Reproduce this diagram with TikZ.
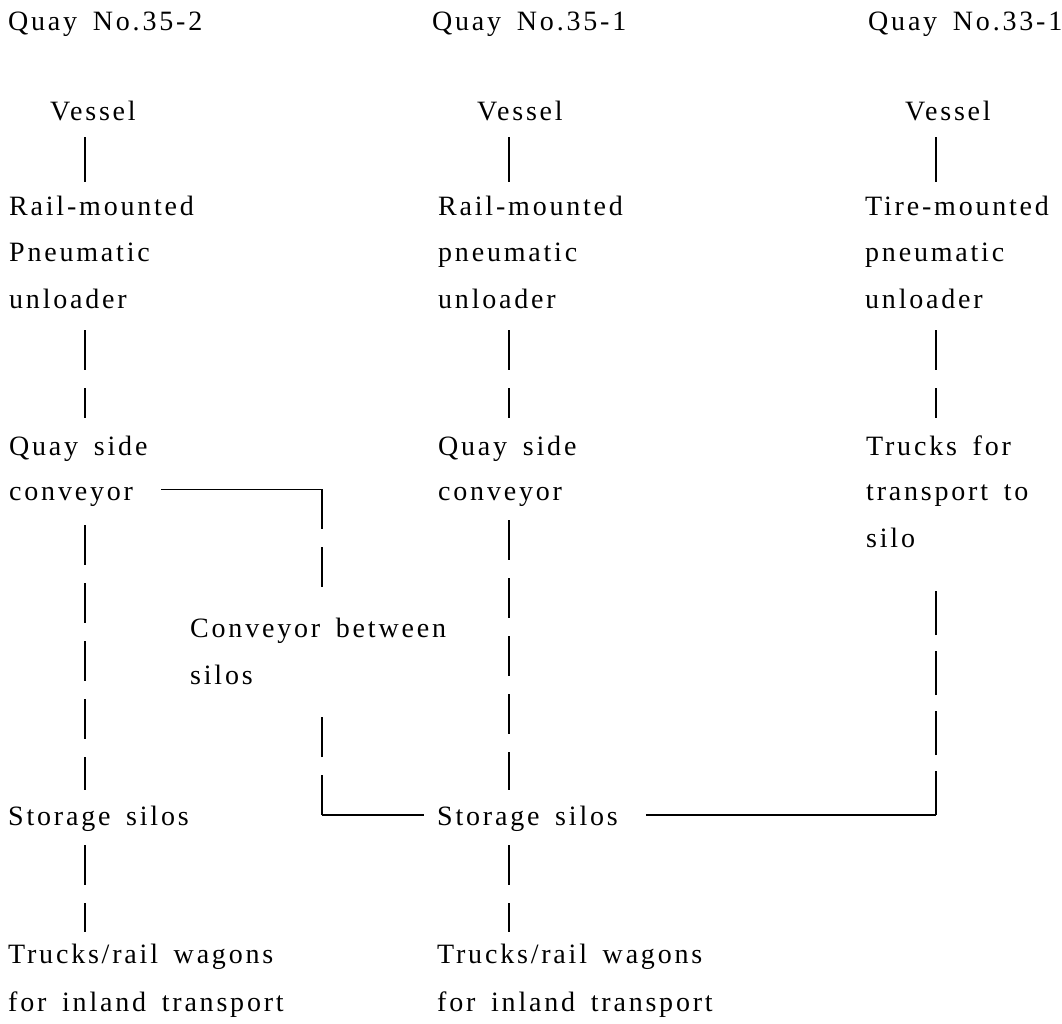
\documentclass[tikz,border=0pt]{standalone}
\usepackage{fontspec}
\setmainfont{Liberation Serif}[LetterSpace=10,WordSpace={1.6}]
\usetikzlibrary{calc}
\begin{document}
\begin{tikzpicture}[x=1pt,y=-1pt,
  lbl/.style={anchor=base west,inner sep=0pt,font=\fontsize{28}{34}\selectfont},
  solidc/.style={line width=1.8pt},
  dashc/.style={line width=1.8pt,dash pattern=on 40pt off 18pt},
  dashu/.style={line width=1.8pt,dash pattern=on 44pt off 16pt}]
\useasboundingbox[fill=white] (0,0) rectangle (1062,1023);
% column axes
\coordinate (c1) at (85,0);
\coordinate (c2) at (509,0);
\coordinate (c3) at (936,0);
\coordinate (cx) at (322,0);
% headers
\node[lbl] (h1) at (8,30) {Quay No.35-2};
\node[lbl] (h2) at (432,30) {Quay No.35-1};
\node[lbl] (h3) at (868,30) {Quay No.33-1};
% left column
\node[lbl] (v1) at (50,120) {Vessel};
\node[lbl] (u1a) at (9,215) {Rail-mounted};
\node[lbl] (u1b) at (9,261) {Pneumatic};
\node[lbl] (u1c) at (9,308) {unloader};
\node[lbl] (q1a) at (9,455) {Quay side};
\node[lbl] (q1b) at (9,500) {conveyor};
\node[lbl] (s1) at (8,825) {Storage silos};
\node[lbl] (t1a) at (8,963) {Trucks/rail wagons};
\node[lbl] (t1b) at (8,1011) {for inland transport};
% middle column
\node[lbl] (v2) at (477,120) {Vessel};
\node[lbl] (u2a) at (438,215) {Rail-mounted};
\node[lbl] (u2b) at (438,261) {pneumatic};
\node[lbl] (u2c) at (438,308) {unloader};
\node[lbl] (q2a) at (438,455) {Quay side};
\node[lbl] (q2b) at (438,500) {conveyor};
\node[lbl] (s2) at (437,825) {Storage silos};
\node[lbl] (t2a) at (437,963) {Trucks/rail wagons};
\node[lbl] (t2b) at (437,1011) {for inland transport};
% right column
\node[lbl] (v3) at (905,120) {Vessel};
\node[lbl] (u3a) at (865,215) {Tire-mounted};
\node[lbl] (u3b) at (865,261) {pneumatic};
\node[lbl] (u3c) at (865,308) {unloader};
\node[lbl] (k3a) at (866,455) {Trucks for};
\node[lbl] (k3b) at (866,500) {transport to};
\node[lbl] (k3c) at (866,547) {silo};
% conveyor between silos
\node[lbl] (cb1) at (190,637) {Conveyor between};
\node[lbl] (cb2) at (190,684) {silos};
% left connectors
\draw[solidc] ($(v1.base -| c1)+(0,17)$) -- ($(u1a.base -| c1)+(0,-33)$);
\draw[dashc] ($(u1c.base -| c1)+(0,22)$) -- ($(q1a.base -| c1)+(0,-37)$);
\draw[dashc] ($(q1b.base -| c1)+(0,25)$) -- ($(s1.base -| c1)+(0,-35)$);
\draw[dashc] ($(s1.base -| c1)+(0,20)$) -- ($(t1a.base -| c1)+(0,-31)$);
% middle connectors
\draw[solidc] ($(v2.base -| c2)+(0,17)$) -- ($(u2a.base -| c2)+(0,-33)$);
\draw[dashc] ($(u2c.base -| c2)+(0,22)$) -- ($(q2a.base -| c2)+(0,-37)$);
\draw[dashc] ($(q2b.base -| c2)+(0,20)$) -- ($(s2.base -| c2)+(0,-35)$);
\draw[dashc] ($(s2.base -| c2)+(0,20)$) -- ($(t2a.base -| c2)+(0,-31)$);
% right connectors
\draw[solidc] ($(v3.base -| c3)+(0,17)$) -- ($(u3a.base -| c3)+(0,-33)$);
\draw[dashc] ($(u3c.base -| c3)+(0,22)$) -- ($(k3a.base -| c3)+(0,-37)$);
% conveyor between silos: left quay conveyor to middle storage silos
\coordinate (k1) at ($(q1b.east -| cx)+(0,-7)$);
\coordinate (k2) at ($(s2.base -| cx)+(0,-10)$);
\draw[solidc] ($(q1b.east)+(28,-7)$) -- (k1);
\draw[dashc] (k1) -- ($(cb1.base -| cx)+(0,-49)$);
\draw[dashc] (k2) -- ($(cb2.base -| cx)+(0,16)$);
\draw[solidc] (k2) -- ($(s2.base west)+(-13,-10)$);
% trucks to silo: right column to middle storage silos
\coordinate (k3) at ($(s2.base -| c3)+(0,-10)$);
\draw[solidc] ($(s2.base east)+(28,-10)$) -- (k3);
\draw[dashu] (k3) -- ($(k3c.base -| c3)+(0,31)$);
\end{tikzpicture}
\end{document}
